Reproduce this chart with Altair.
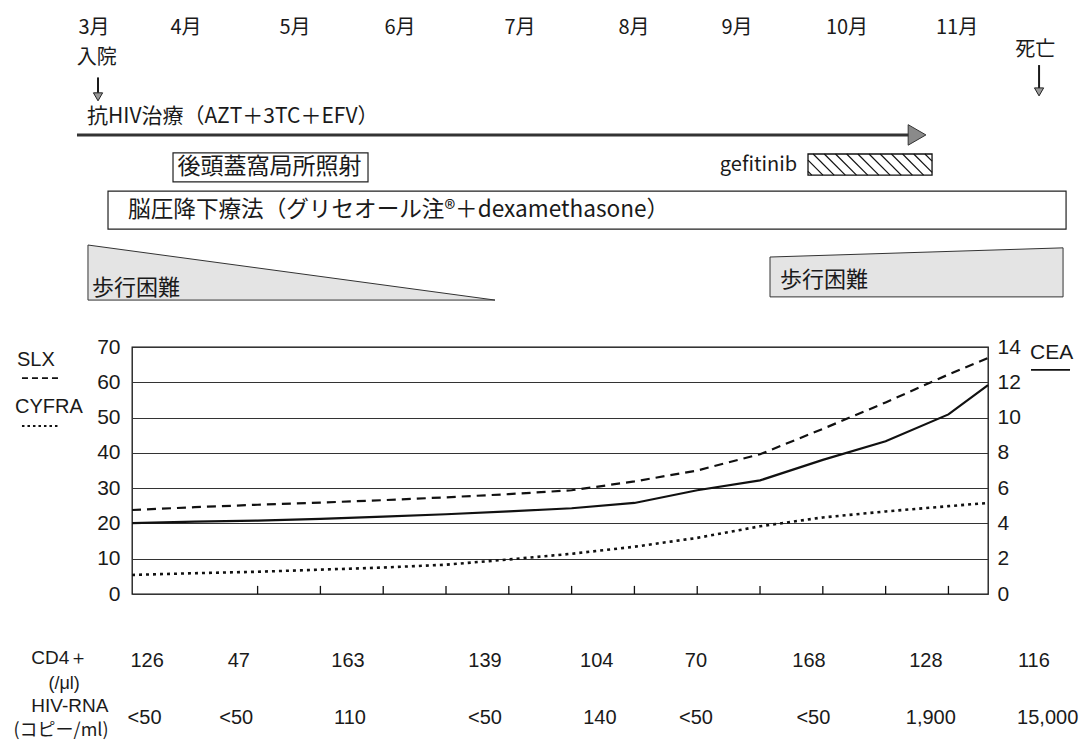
import altair as alt
import pandas as pd
import numpy as np

# ---------------- data ----------------
# time axis (tick units of the lower graph); tumour-marker samples
t_pts = [0, 1, 2, 3, 4, 5, 6, 7, 8, 9, 10, 11, 12, 13, 13.63]
slx = [23.8, 24.6, 25.3, 25.9, 26.6, 27.4, 28.3, 29.4, 31.9, 35.0, 39.6, 46.8, 54.3, 62.2, 66.9]
cyfra = [5.4, 5.9, 6.3, 6.9, 7.5, 8.3, 9.8, 11.4, 13.4, 15.9, 19.2, 21.7, 23.4, 24.9, 25.8]
cea = [4.02, 4.10, 4.16, 4.26, 4.38, 4.52, 4.68, 4.86, 5.16, 5.88, 6.44, 7.60, 8.66, 10.18, 11.84]

months = ["3月", "4月", "5月", "6月", "7月", "8月", "9月", "10月", "11月"]
month_t = [-0.605, 0.860, 2.596, 4.268, 6.178, 7.994, 9.634, 11.385, 13.137]

tick_t = [2, 3, 4, 5, 6, 7, 8, 9, 10, 11, 12, 13]

cd4_labels = ["126", "47", "163", "139", "104", "70", "168", "128", "116"]
cd4_t = [0.24, 1.70, 3.44, 5.62, 7.40, 8.98, 10.78, 12.64, 14.36]
hiv_labels = ["<50", "<50", "110", "<50", "140", "<50", "<50", "1,900", "15,000"]
hiv_t = [0.20, 1.66, 3.47, 5.62, 7.45, 8.98, 10.85, 12.72, 14.58]

admit_t = -0.541
death_t = 14.443
art_span = [-0.876, 12.43]     # anti-HIV therapy arrow
art_head = 12.5
rad_span = [0.653, 3.758]      # posterior fossa irradiation
gef_span = [10.764, 12.739]    # gefitinib
icp_span = [-0.382, 14.873]    # intracranial pressure therapy
gait1_span = [-0.701, 5.780]   # walking difficulty (decreasing)
gait2_span = [10.159, 14.825]  # walking difficulty (increasing)

# ---------------- layout (rows in left-axis units) ----------------
R_MONTH = 160.4
R_ADMIT_TXT, R_DEATH_TXT = 151.9, 154.2
R_ARROW_TOP_A, R_ARROW_BOT_A, R_HEAD_A = 146.4, 142.0, 140.9
R_ARROW_TOP_D, R_ARROW_BOT_D, R_HEAD_D = 149.9, 143.4, 142.3
R_ART_TXT, R_ART_LINE = 135.2, 130.1
R_RAD = (116.8, 125.0, 121.0)
R_GEF = (118.7, 124.7, 121.6)
R_ICP = (103.4, 114.2, 108.8)
R_GAIT1 = (83.3, 98.9, 86.7)
R_GAIT2 = (84.2, 95.5, 98.1, 89.0)
R_CD4, R_CD4_A, R_CD4_B = -19.0, -18.2, -25.4
R_HIV, R_HIV_A, R_HIV_B = -35.1, -31.6, -38.9

JP = "Noto Sans CJK JP"
NUM = "Liberation Sans"
INK = "#1a1a1a"

XS = alt.Scale(domain=[0, 13.63], nice=False, zero=False)
YS = alt.Scale(domain=[0, 70], nice=False, zero=False)

left_axis = alt.Axis(values=list(range(0, 71, 10)), grid=True, gridColor="#333", gridWidth=1,
                     domain=False, ticks=False, labelPadding=12, labelFont=NUM,
                     labelFontSize=21, labelColor=INK, title=None)


def xq(f="t"):
    return alt.X(f"{f}:Q", scale=XS, axis=None)


def yq(f="v"):
    return alt.Y(f"{f}:Q", scale=YS, axis=left_axis)


def texts(labels, ts, vs, **mk):
    df = pd.DataFrame({"label": labels, "t": ts, "v": vs})
    base = dict(baseline="middle", color=INK)
    base.update(mk)
    return alt.Chart(df).mark_text(**base).encode(x=xq(), y=yq(), text="label:N")


def hrules(rows, **mk):
    df = pd.DataFrame(rows, columns=["t", "t2", "v"])
    return alt.Chart(df).mark_rule(**mk).encode(x=xq(), x2="t2:Q", y=yq())


def boxes(rows, **mk):
    df = pd.DataFrame(rows, columns=["t", "t2", "v", "v2"])
    return alt.Chart(df).mark_rect(**mk).encode(x=xq(), x2="t2:Q", y=yq(), y2="v2:Q")


layers = []

# ---- series (left axis) ----
df_slx = pd.DataFrame({"t": t_pts, "v": slx})
df_cyf = pd.DataFrame({"t": t_pts, "v": cyfra})
layers.append(alt.Chart(df_slx).mark_line(color="#111", strokeWidth=2.2, strokeDash=[9, 6])
              .encode(x=xq(), y=yq()))
layers.append(alt.Chart(df_cyf).mark_line(color="#111", strokeWidth=2.6, strokeDash=[3, 4])
              .encode(x=xq(), y=yq()))

# bottom inner ticks
df_ticks = pd.DataFrame({"t": tick_t, "v": 0.0, "v2": 2.3})
layers.append(alt.Chart(df_ticks).mark_rule(color="#111", strokeWidth=1.3)
              .encode(x=xq(), y=yq(), y2="v2:Q"))

# ---- top timeline ----
layers.append(texts(months, month_t, [R_MONTH] * len(months), font=JP, fontSize=20, align="center"))
layers.append(texts(["入院"], [admit_t - 0.02], [R_ADMIT_TXT], font=JP, fontSize=20, align="center"))
layers.append(texts(["死亡"], [death_t - 0.06], [R_DEATH_TXT], font=JP, fontSize=20, align="center"))

df_arrows = pd.DataFrame({"t": [admit_t, death_t], "v": [R_ARROW_TOP_A, R_ARROW_TOP_D],
                          "v2": [R_ARROW_BOT_A, R_ARROW_BOT_D]})
layers.append(alt.Chart(df_arrows).mark_rule(color=INK, strokeWidth=2).encode(x=xq(), y=yq(), y2="v2:Q"))
df_heads = pd.DataFrame({"t": [admit_t, death_t], "v": [R_HEAD_A, R_HEAD_D]})
layers.append(alt.Chart(df_heads).mark_point(shape="triangle-down", filled=True, color="#999",
                                             stroke="#222", strokeWidth=1, size=85, opacity=1)
              .encode(x=xq(), y=yq()))

layers.append(texts(["抗HIV治療（AZT＋3TC＋EFV）"], [-0.717], [R_ART_TXT], font=JP, fontSize=21, align="left"))
layers.append(hrules([[art_span[0], art_span[1], R_ART_LINE]], color="#333", strokeWidth=3))
layers.append(alt.Chart(pd.DataFrame({"t": [art_head], "v": [R_ART_LINE]}))
              .mark_point(shape="triangle-right", filled=True, color="#8a8a8a", stroke="#333",
                          strokeWidth=1, size=420, opacity=1)
              .encode(x=xq(), y=yq()))

# irradiation box
layers.append(boxes([[rad_span[0], rad_span[1], R_RAD[0], R_RAD[1]]], fill="white", stroke="#222", strokeWidth=1.2))
layers.append(texts(["後頭蓋窩局所照射"], [rad_span[0] + 0.07], [R_RAD[2]], font=JP, fontSize=23, align="left"))

# gefitinib hatched box
layers.append(texts(["gefitinib"], [gef_span[0] - 0.175], [R_GEF[2]], font=JP, fontSize=20, align="right"))
layers.append(boxes([[gef_span[0], gef_span[1], R_GEF[0], R_GEF[1]]], fill="white", stroke="#111", strokeWidth=1.3))
d = 0.334
hatch = []
for xs in np.arange(gef_span[0] - d + 0.06, gef_span[1], 0.178):
    f0 = max(0.0, (gef_span[0] - xs) / d)
    f1 = min(1.0, (gef_span[1] - xs) / d)
    if f1 > f0:
        hatch.append([xs + d * f0, xs + d * f1,
                      R_GEF[1] - (R_GEF[1] - R_GEF[0]) * f0,
                      R_GEF[1] - (R_GEF[1] - R_GEF[0]) * f1])
df_hatch = pd.DataFrame(hatch, columns=["t", "t2", "v", "v2"])
layers.append(alt.Chart(df_hatch).mark_rule(color="#111", strokeWidth=1.2)
              .encode(x=xq(), x2="t2:Q", y=yq(), y2="v2:Q"))

# ICP therapy box
layers.append(boxes([[icp_span[0], icp_span[1], R_ICP[0], R_ICP[1]]], fill="white", stroke="#222", strokeWidth=1.2))
layers.append(texts(["脳圧降下療法（グリセオール注®＋dexamethasone）"], [icp_span[0] + 0.32], [R_ICP[2]],
                    font=JP, fontSize=22.6, align="left"))

# walking difficulty shapes
df_g1 = pd.DataFrame({"t": [gait1_span[0], gait1_span[1]], "top": [R_GAIT1[1], R_GAIT1[0]],
                      "bot": [R_GAIT1[0], R_GAIT1[0]]})
layers.append(alt.Chart(df_g1).mark_area(fill="#e4e4e4", stroke="#333", strokeWidth=1, interpolate="linear")
              .encode(x=xq(), y=yq("top"), y2="bot:Q"))
layers.append(texts(["歩行困難"], [gait1_span[0] + 0.065], [R_GAIT1[2]], font=JP, fontSize=22, align="left"))
df_g2 = pd.DataFrame({"t": [gait2_span[0], gait2_span[1]], "top": [R_GAIT2[1], R_GAIT2[2]],
                      "bot": [R_GAIT2[0], R_GAIT2[0]]})
layers.append(alt.Chart(df_g2).mark_area(fill="#e4e4e4", stroke="#333", strokeWidth=1, interpolate="linear")
              .encode(x=xq(), y=yq("top"), y2="bot:Q"))
layers.append(texts(["歩行困難"], [gait2_span[0] + 0.16], [R_GAIT2[3]], font=JP, fontSize=22, align="left"))

# ---- legends ----
layers.append(texts(["SLX", "CYFRA"], [-1.831, -1.863], [66.3, 53.0], font=NUM, fontSize=20, align="left"))
layers.append(hrules([[-1.752, -1.146, 61.2]], color="#111", strokeWidth=1.8, strokeDash=[6, 4]))
layers.append(hrules([[-1.752, -1.146, 47.6]], color="#111", strokeWidth=2, strokeDash=[2.5, 3]))
layers.append(texts(["CEA"], [14.299], [68.3], font=NUM, fontSize=21, align="left"))
layers.append(hrules([[14.315, 14.936, 63.5]], color="#111", strokeWidth=1.8))

# ---- lab table ----
layers.append(texts(["CD4＋"], [-1.15], [R_CD4_A], font=NUM, fontSize=19, align="center"))
layers.append(texts(["(/μl)"], [-1.08], [R_CD4_B], font=NUM, fontSize=18, align="center"))
layers.append(texts(cd4_labels, cd4_t, [R_CD4] * len(cd4_labels), font=NUM, fontSize=20, align="center"))
layers.append(texts(["HIV-RNA"], [-0.99], [R_HIV_A], font=NUM, fontSize=19, align="center"))
layers.append(texts(["(コピー/ml)"], [-1.13], [R_HIV_B], font=JP, fontSize=18, align="center"))
layers.append(texts(hiv_labels, hiv_t, [R_HIV] * len(hiv_labels), font=NUM, fontSize=20, align="center"))

left_group = alt.layer(*layers)

# ---- CEA (right axis) ----
right_axis = alt.Axis(values=list(range(0, 15, 2)), orient="right", grid=False, domain=False, ticks=False,
                      labelPadding=9, labelFont=NUM, labelFontSize=21, labelColor=INK, title=None)
df_cea = pd.DataFrame({"t": t_pts, "v": cea})
cea_layer = alt.Chart(df_cea).mark_line(color="#111", strokeWidth=2.2).encode(
    x=xq(), y=alt.Y("v:Q", scale=alt.Scale(domain=[0, 14], nice=False, zero=False), axis=right_axis))

chart = (
    alt.layer(left_group, cea_layer)
    .resolve_scale(y="independent")
    .properties(width=856, height=247,
                padding={"left": 132, "top": 347, "right": 96, "bottom": 152},
                autosize=alt.AutoSizeParams(type="none"),
                background="white")
    .configure_view(stroke="#111", strokeWidth=1.3)
)

chart.save("out.html", embed_options={"renderer": "svg", "actions": False})
